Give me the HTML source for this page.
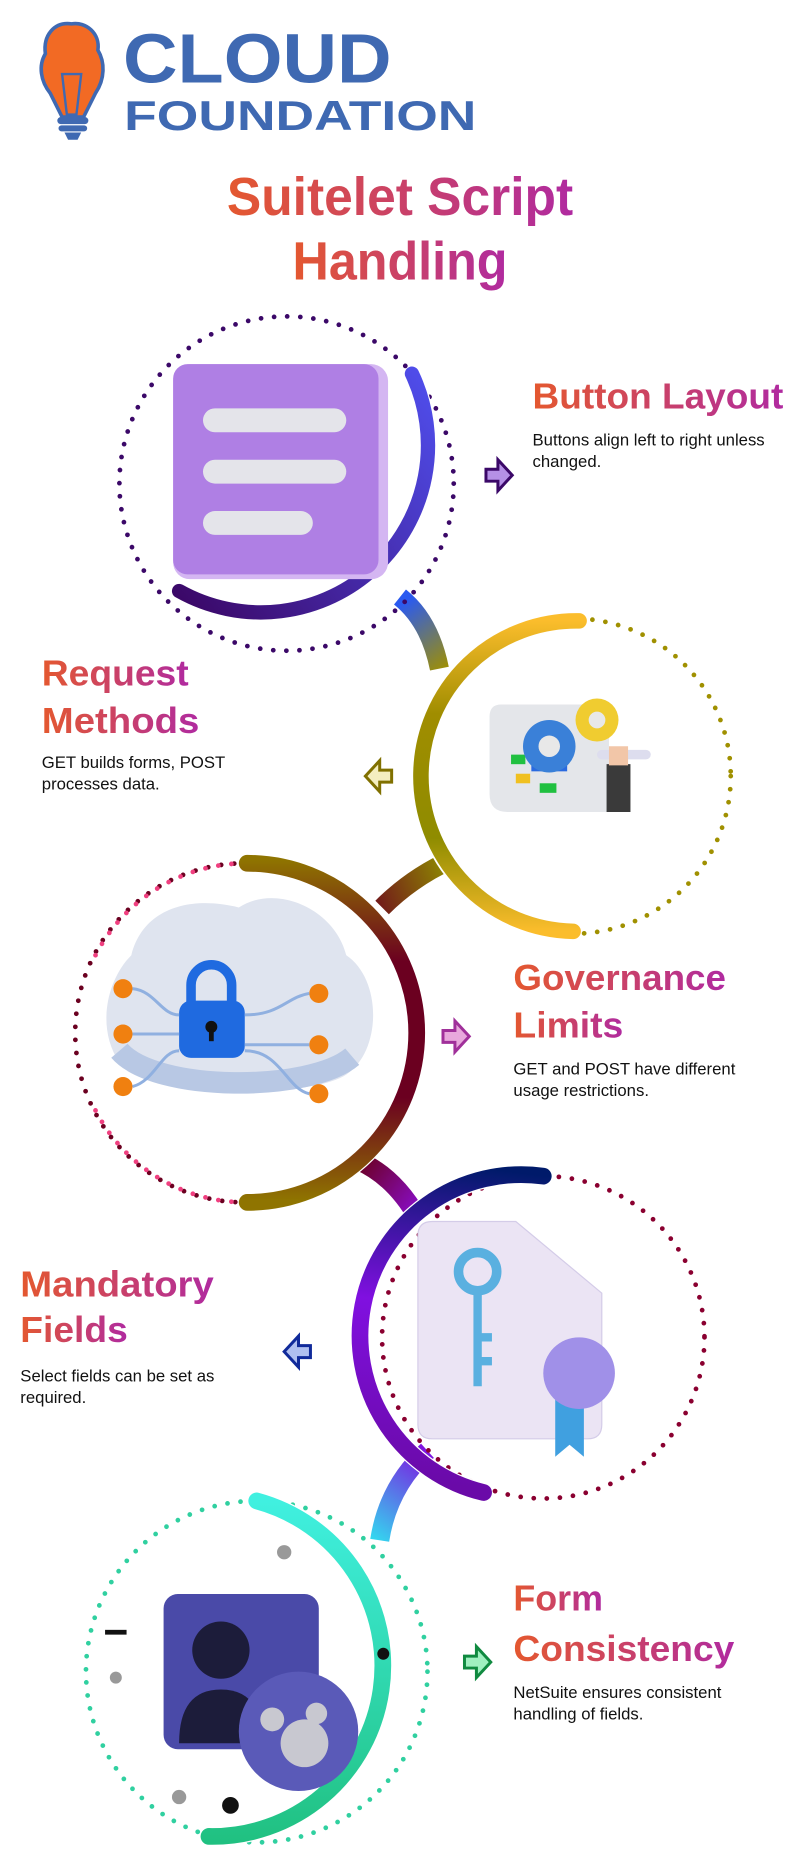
<!DOCTYPE html>
<html><head><meta charset="utf-8"><style>
html,body{margin:0;padding:0;background:#fff}
svg{display:block}
text{font-family:"Liberation Sans",sans-serif}
</style></head><body>
<svg width="800" height="1867" viewBox="0 0 800 1867" xmlns="http://www.w3.org/2000/svg">
<defs>
<linearGradient id="tg" x1="0" y1="0" x2="1" y2="0"><stop offset="0" stop-color="#e4582f"/><stop offset="1" stop-color="#b02aa0"/></linearGradient>
<linearGradient id="g1" gradientUnits="userSpaceOnUse" x1="150" y1="500" x2="380" y2="330"><stop offset="0" stop-color="#3b0868"/><stop offset="1" stop-color="#5050f0"/></linearGradient>
<linearGradient id="g2" gradientUnits="userSpaceOnUse" x1="480" y1="520" x2="480" y2="780"><stop offset="0" stop-color="#fbbd2c"/><stop offset="0.3" stop-color="#a08d00"/><stop offset="0.7" stop-color="#8f8c00"/><stop offset="1" stop-color="#fbbd2c"/></linearGradient>
<linearGradient id="g3" gradientUnits="userSpaceOnUse" x1="205" y1="720" x2="205" y2="1005"><stop offset="0" stop-color="#8f7400"/><stop offset="0.3" stop-color="#6b0020"/><stop offset="0.7" stop-color="#6b0020"/><stop offset="1" stop-color="#8f7400"/></linearGradient>
<linearGradient id="g4" gradientUnits="userSpaceOnUse" x1="455" y1="985" x2="420" y2="1250"><stop offset="0" stop-color="#001a6a"/><stop offset="0.45" stop-color="#8010e0"/><stop offset="1" stop-color="#6a0aa8"/></linearGradient>
<linearGradient id="g5" gradientUnits="userSpaceOnUse" x1="215" y1="1257" x2="215" y2="1545"><stop offset="0" stop-color="#40f0e0"/><stop offset="1" stop-color="#20c080"/></linearGradient>
<linearGradient id="j1" gradientUnits="userSpaceOnUse" x1="339" y1="504" x2="378" y2="558"><stop offset="0" stop-color="#2a5af0"/><stop offset="1" stop-color="#a09000"/></linearGradient>
<linearGradient id="j2" gradientUnits="userSpaceOnUse" x1="375" y1="723" x2="298" y2="754"><stop offset="0" stop-color="#8f8c00"/><stop offset="1" stop-color="#6b0020"/></linearGradient>
<linearGradient id="j3" gradientUnits="userSpaceOnUse" x1="298" y1="976" x2="360" y2="1025"><stop offset="0" stop-color="#6b0020"/><stop offset="1" stop-color="#9010f0"/></linearGradient>
<linearGradient id="j4" gradientUnits="userSpaceOnUse" x1="360" y1="1215" x2="307" y2="1290"><stop offset="0" stop-color="#8010e0"/><stop offset="1" stop-color="#30e0f0"/></linearGradient>
</defs>
<g transform="scale(1.19403)">
<!-- logo -->
<g>
<path d="M60 20 C45 18 36 30 38 45 C32 55 34 68 42 78 L52 98 L70 98 L80 78 C88 66 88 52 82 42 C84 28 72 18 60 20Z" fill="#f26a24" stroke="#3f69b2" stroke-width="3"/>
<path d="M52 62 L68 62 L64 96 L56 96Z" fill="none" stroke="#3f69b2" stroke-width="2"/>
<rect x="48" y="98" width="26" height="6" rx="3" fill="#3f69b2"/>
<rect x="49" y="105" width="24" height="5" rx="2.5" fill="#3f69b2"/>
<path d="M54 111 h14 l-3 6 h-8z" fill="#3f69b2"/>
<text x="103" y="69" font-size="58" font-weight="bold" fill="#3f69b2" textLength="225" lengthAdjust="spacingAndGlyphs">CLOUD</text>
<text x="104" y="109" font-size="35" font-weight="bold" fill="#3f69b2" textLength="295" lengthAdjust="spacingAndGlyphs">FOUNDATION</text>
</g>
<text x="335" y="180" font-size="45" font-weight="bold" fill="url(#tg)" text-anchor="middle" textLength="290" lengthAdjust="spacingAndGlyphs">Suitelet Script</text>
<text x="335" y="234" font-size="45" font-weight="bold" fill="url(#tg)" text-anchor="middle" textLength="180" lengthAdjust="spacingAndGlyphs">Handling</text>

<!-- junctions -->
<path d="M335 500 Q360 520 368 560" fill="none" stroke="url(#j1)" stroke-width="16"/>
<path d="M378 720 Q345 735 320 760" fill="none" stroke="url(#j2)" stroke-width="16"/>
<path d="M300 972 Q330 985 350 1020" fill="none" stroke="url(#j3)" stroke-width="16"/>
<path d="M358 1215 Q325 1245 318 1290" fill="none" stroke="url(#j4)" stroke-width="16"/>

<!-- circle 1 -->
<circle cx="240" cy="405" r="140" fill="none" stroke="#3b0868" stroke-width="4" stroke-dasharray="0 11" stroke-linecap="round"/>
<path d="M345 313 A140 140 0 0 1 150 495" fill="none" stroke="#fff" stroke-width="14"/>
<path d="M345 313 A140 140 0 0 1 150 495" fill="none" stroke="url(#g1)" stroke-width="12" stroke-linecap="round"/>
<rect x="145" y="305" width="180" height="180" rx="14" fill="#d4b6f2"/>
<rect x="145" y="305" width="172" height="176" rx="12" fill="#af7fe4"/>
<rect x="170" y="342" width="120" height="20" rx="10" fill="#e4e4ea"/>
<rect x="170" y="385" width="120" height="20" rx="10" fill="#e4e4ea"/>
<rect x="170" y="428" width="92" height="20" rx="10" fill="#e4e4ea"/>
<text x="446" y="342" font-size="30" font-weight="bold" fill="url(#tg)" textLength="210" lengthAdjust="spacingAndGlyphs">Button Layout</text>
<text x="446" y="373" font-size="14" fill="#111">Buttons align left to right unless</text>
<text x="446" y="391" font-size="14" fill="#111">changed.</text>
<path d="M407 393 h10 v-8 l12 13 l-12 13 v-8 h-10z" fill="#b590e6" stroke="#3b0868" stroke-width="2.5"/>

<!-- circle 2 -->
<circle cx="480" cy="650" r="132" fill="none" stroke="#a09000" stroke-width="4" stroke-dasharray="0 11" stroke-linecap="round"/>
<path d="M485 520 A130 130 0 0 0 480 780" fill="none" stroke="#fff" stroke-width="16"/>
<path d="M485 520 A130 130 0 0 0 480 780" fill="none" stroke="url(#g2)" stroke-width="13" stroke-linecap="round"/>
<path d="M410 600 q0-10 10-10 h90 v90 h-85 q-15 0-15-15z" fill="#e4e6ea"/>
<rect x="428" y="632" width="12" height="8" fill="#20c040"/><rect x="445" y="640" width="30" height="6" fill="#2a6ae0"/><rect x="432" y="648" width="12" height="8" fill="#f0c020"/><rect x="452" y="656" width="14" height="8" fill="#20c040"/>
<circle cx="460" cy="625" r="22" fill="#3a80d8"/><circle cx="460" cy="625" r="9" fill="#e8e8e8"/>
<circle cx="500" cy="603" r="18" fill="#f0cc30"/><circle cx="500" cy="603" r="7" fill="#e8e8e8"/>
<rect x="500" y="628" width="45" height="8" rx="4" fill="#dde"/>
<path d="M508 640 h20 v40 h-20z" fill="#3a3a3a"/><path d="M510 625 h16 v16 h-16z" fill="#f2c6a8"/>
<text x="35" y="574" font-size="30" font-weight="bold" fill="url(#tg)" textLength="123" lengthAdjust="spacingAndGlyphs">Request</text>
<text x="35" y="614" font-size="30" font-weight="bold" fill="url(#tg)" textLength="132" lengthAdjust="spacingAndGlyphs">Methods</text>
<text x="35" y="643" font-size="14" fill="#111">GET builds forms, POST</text>
<text x="35" y="661" font-size="14" fill="#111">processes data.</text>
<path d="M328 645 h-10 v-8 l-12 13 l12 13 v-8 h10z" fill="#f4eec0" stroke="#807000" stroke-width="2.5"/>

<!-- circle 3 -->
<circle cx="205" cy="865" r="142" fill="none" stroke="#6b0020" stroke-width="4" stroke-dasharray="0 11" stroke-linecap="round"/>
<path d="M80 800 A142 142 0 0 1 205 723" fill="none" stroke="#f04080" stroke-width="4" stroke-dasharray="0 11" stroke-linecap="round"/>
<path d="M80 930 A142 142 0 0 0 205 1007" fill="none" stroke="#f04080" stroke-width="4" stroke-dasharray="0 11" stroke-linecap="round"/>
<path d="M207 723 A142 142 0 0 1 207 1007" fill="none" stroke="#fff" stroke-width="16"/>
<path d="M207 723 A142 142 0 0 1 207 1007" fill="none" stroke="url(#g3)" stroke-width="14" stroke-linecap="round"/>
<path d="M110 800 C120 760 160 750 200 760 C230 740 280 760 290 800 C320 820 320 880 290 900 C260 920 130 920 100 890 C80 860 90 820 110 800Z" fill="#dfe4ef"/>
<path d="M100 880 C130 915 260 915 295 885" fill="none" stroke="#b8c8e4" stroke-width="18"/>
<rect x="150" y="838" width="55" height="48" rx="10" fill="#1f6ae0"/>
<path d="M160 840 v-15 a17 17 0 0 1 34 0 v15" fill="none" stroke="#1f6ae0" stroke-width="8"/>
<circle cx="177" cy="860" r="5" fill="#111"/><rect x="175" y="862" width="4" height="10" fill="#111"/>
<g fill="#f08010"><circle cx="103" cy="828" r="8"/><circle cx="103" cy="866" r="8"/><circle cx="103" cy="910" r="8"/><circle cx="267" cy="832" r="8"/><circle cx="267" cy="875" r="8"/><circle cx="267" cy="916" r="8"/></g>
<g stroke="#90b0e0" stroke-width="2.5" fill="none"><path d="M111 828 C130 830 135 850 150 850"/><path d="M111 866 h39"/><path d="M111 910 C130 905 135 880 150 880"/><path d="M259 832 C240 835 235 850 205 850"/><path d="M259 875 h-54"/><path d="M259 916 C240 912 235 880 205 880"/></g>
<text x="430" y="829" font-size="30" font-weight="bold" fill="url(#tg)" textLength="178" lengthAdjust="spacingAndGlyphs">Governance</text>
<text x="430" y="869" font-size="30" font-weight="bold" fill="url(#tg)" textLength="92" lengthAdjust="spacingAndGlyphs">Limits</text>
<text x="430" y="900" font-size="14" fill="#111">GET and POST have different</text>
<text x="430" y="918" font-size="14" fill="#111">usage restrictions.</text>
<path d="M371 863 h10 v-8 l12 13 l-12 13 v-8 h-10z" fill="#e8a8dc" stroke="#a0309a" stroke-width="2.5"/>

<!-- circle 4 -->
<circle cx="455" cy="1120" r="135" fill="none" stroke="#8a0030" stroke-width="4" stroke-dasharray="0 11" stroke-linecap="round"/>
<path d="M455 985 A135 135 0 0 0 405 1250" fill="none" stroke="#fff" stroke-width="16"/>
<path d="M455 985 A135 135 0 0 0 405 1250" fill="none" stroke="url(#g4)" stroke-width="14" stroke-linecap="round"/>
<path d="M350 1035 q0-12 12-12 h70 l72 60 v110 q0 12-12 12 h-130 q-12 0-12-12z" fill="#ebe4f4" stroke="#d4cce8"/>
<circle cx="400" cy="1065" r="16" fill="none" stroke="#5ab0e0" stroke-width="8"/>
<path d="M400 1081 v80 M400 1120 h12 M400 1140 h12" stroke="#5ab0e0" stroke-width="7"/>
<path d="M465 1170 v50 l12 -10 l12 10 v-50z" fill="#40a0e0"/>
<circle cx="485" cy="1150" r="30" fill="#a090e8"/>
<text x="17" y="1086" font-size="30" font-weight="bold" fill="url(#tg)" textLength="162" lengthAdjust="spacingAndGlyphs">Mandatory</text>
<text x="17" y="1124" font-size="30" font-weight="bold" fill="url(#tg)" textLength="90" lengthAdjust="spacingAndGlyphs">Fields</text>
<text x="17" y="1157" font-size="14" fill="#111">Select fields can be set as</text>
<text x="17" y="1175" font-size="14" fill="#111">required.</text>
<path d="M260 1127 h-10 v-8 l-12 13 l12 13 v-8 h10z" fill="#b0c0f0" stroke="#102a9a" stroke-width="2.5"/>

<!-- circle 5 -->
<circle cx="215" cy="1400" r="143" fill="none" stroke="#30d0a0" stroke-width="4" stroke-dasharray="0 11" stroke-linecap="round"/>
<path d="M215 1257 A143 143 0 0 1 175 1538" fill="none" stroke="#fff" stroke-width="16"/>
<path d="M215 1257 A143 143 0 0 1 175 1538" fill="none" stroke="url(#g5)" stroke-width="14" stroke-linecap="round"/>
<rect x="137" y="1335" width="130" height="130" rx="12" fill="#4a4aa8"/>
<circle cx="185" cy="1382" r="24" fill="#1c1c3a"/>
<path d="M150 1460 q0-45 35-45 q35 0 35 45z" fill="#1c1c3a"/>
<circle cx="250" cy="1450" r="50" fill="#5a5ab8"/>
<circle cx="255" cy="1460" r="20" fill="#c8c8d0"/><circle cx="228" cy="1440" r="10" fill="#c8c8d0"/><circle cx="265" cy="1435" r="9" fill="#c8c8d0"/>
<rect x="88" y="1365" width="18" height="4" fill="#111"/><circle cx="321" cy="1385" r="5" fill="#111"/><circle cx="193" cy="1512" r="7" fill="#111"/><circle cx="150" cy="1505" r="6" fill="#999"/><circle cx="238" cy="1300" r="6" fill="#999"/><circle cx="97" cy="1405" r="5" fill="#999"/>
<text x="430" y="1349" font-size="30" font-weight="bold" fill="url(#tg)" textLength="75" lengthAdjust="spacingAndGlyphs">Form</text>
<text x="430" y="1391" font-size="30" font-weight="bold" fill="url(#tg)" textLength="185" lengthAdjust="spacingAndGlyphs">Consistency</text>
<text x="430" y="1422" font-size="14" fill="#111">NetSuite ensures consistent</text>
<text x="430" y="1440" font-size="14" fill="#111">handling of fields.</text>
<path d="M389 1387 h10 v-8 l12 13 l-12 13 v-8 h-10z" fill="#a0f0c0" stroke="#108a40" stroke-width="2.5"/>
</g>
</svg>
</body></html>
